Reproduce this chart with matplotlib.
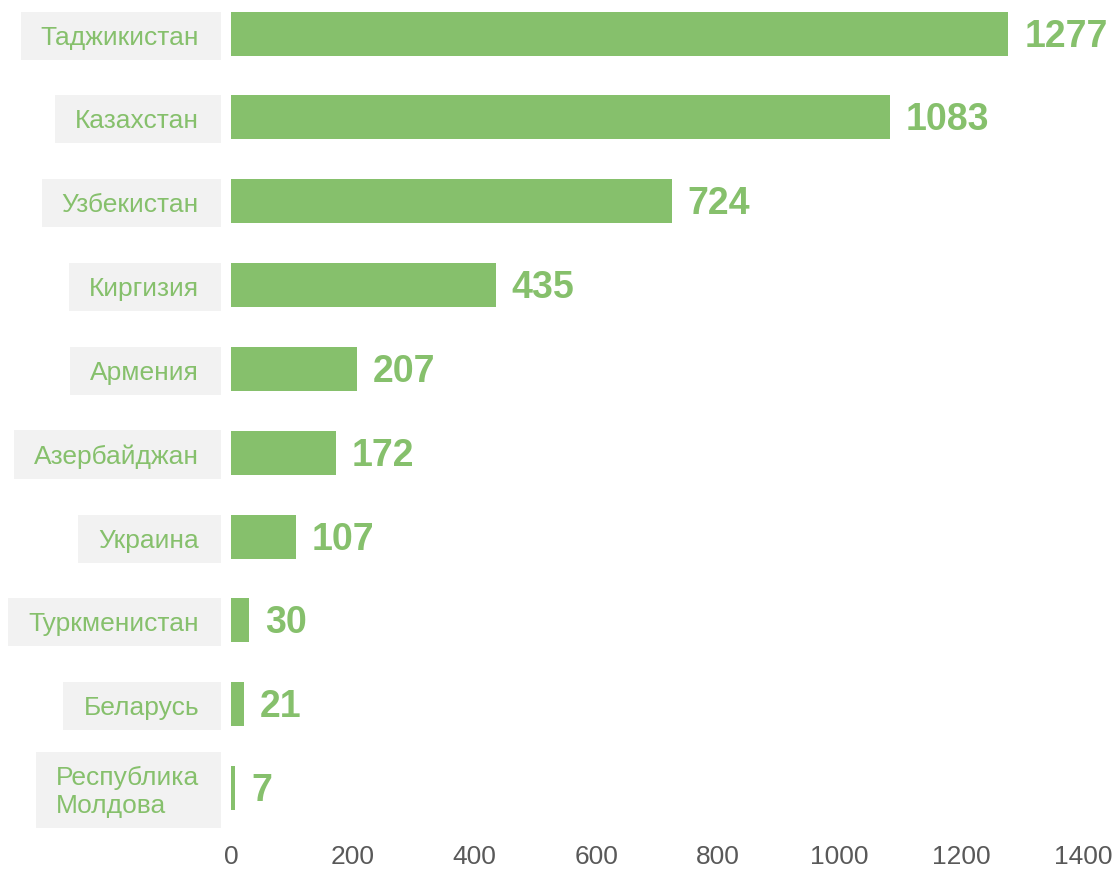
import matplotlib
matplotlib.use("Agg")
import matplotlib.pyplot as plt
from matplotlib.patches import Rectangle
from matplotlib.transforms import blended_transform_factory, offset_copy

countries = ["Таджикистан", "Казахстан", "Узбекистан", "Киргизия", "Армения",
             "Азербайджан", "Украина", "Туркменистан", "Беларусь",
             "Республика\nМолдова"]
values = [1277, 1083, 724, 435, 207, 172, 107, 30, 21, 7]
xticks = [0, 200, 400, 600, 800, 1000, 1200, 1400]

green = "#86C06C"
box_grey = "#F2F2F2"
tick_grey = "#595959"

plt.rcParams["font.family"] = ["Liberation Sans", "DejaVu Sans"]

W, H = 1115, 871
fig = plt.figure(figsize=(W / 100, H / 100), dpi=100)
ax = fig.add_axes([231 / W, 1 - 830 / H, (1083 - 231) / W, 830 / H])

pos = list(range(len(countries)))
ax.barh(pos, values, height=0.525, color=green)
ax.set_ylim(9.5, -0.4)
ax.set_xlim(0, 1400)
ax.set_xticks(xticks)
ax.set_xticklabels([str(t) for t in xticks], fontsize=19, color=tick_grey)
ax.tick_params(axis="x", length=0, pad=11)
ax.set_yticks([])
for s in ax.spines.values():
    s.set_visible(False)

# value labels
for p, v in zip(pos, values):
    ax.annotate(str(v), (v, p), xytext=(16, -3), textcoords="offset pixels",
                ha="left", va="center", fontsize=27, fontweight="bold",
                color=green)

# category labels in grey boxes
trans = offset_copy(blended_transform_factory(fig.transFigure, ax.transData),
                    fig=fig, x=0, y=-4, units="dots")
labels = []
for p, name in zip(pos, countries):
    t = ax.text(199 / W, p, name, transform=trans, ha="right", va="center",
                fontsize=19, color=green, multialignment="left",
                clip_on=False, zorder=6)
    labels.append(t)

fig.canvas.draw()
r = fig.canvas.get_renderer()
for t in labels:
    ext = t.get_window_extent(r)
    x0 = ext.x0 - 20
    x1 = 221
    h = ext.height + 24
    yc = (ext.y0 + ext.y1) / 2 + 2
    rect = Rectangle((x0 / W, (yc - h / 2) / H), (x1 - x0) / W, h / H,
                     transform=fig.transFigure, facecolor=box_grey,
                     edgecolor="none", zorder=5, clip_on=False)
    ax.add_patch(rect)

fig.savefig("out.png", dpi=100)
